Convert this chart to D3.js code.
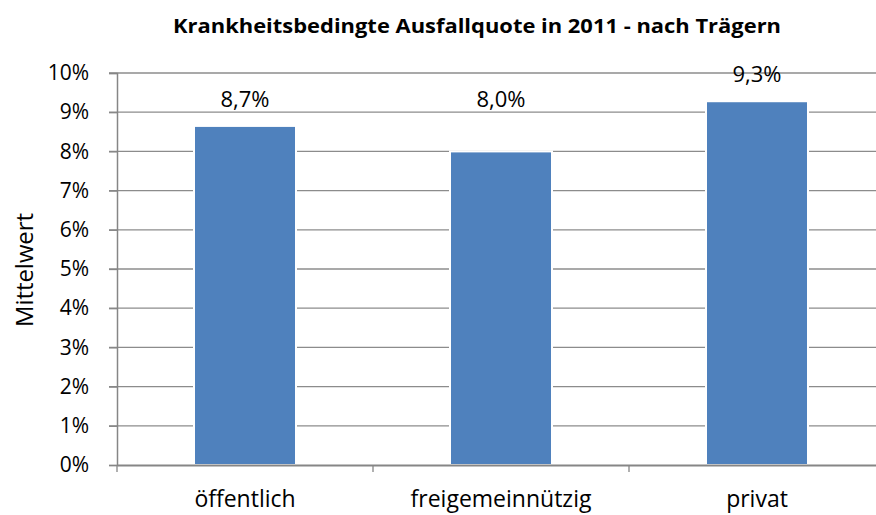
<!DOCTYPE html>
<html>
<head>
<meta charset="utf-8">
<script src="https://cdn.jsdelivr.net/npm/d3@7"></script>
<style>
  body { margin: 0; background: #fff; }
  text { font-family: "Open Sans", sans-serif; fill: #000; }
</style>
</head>
<body>
<div id="chart"></div>
<script>
var categories = ["öffentlich", "freigemeinnützig", "privat"];
var values = [8.65, 8.0, 9.28];
var valueLabels = ["8,7%", "8,0%", "9,3%"];
var yTicks = [0, 1, 2, 3, 4, 5, 6, 7, 8, 9, 10];

var chartWidth = 876, chartHeight = 515;
var plotLeft = 117, plotRight = 885, plotTop = 73, plotBottom = 465;
var labelFloor = 8.65; // labels never sit lower than this level

var svg = d3.select("#chart").append("svg")
    .attr("width", chartWidth)
    .attr("height", chartHeight);

// title
svg.append("text")
    .attr("x", 477)
    .attr("y", 33)
    .attr("text-anchor", "middle")
    .style("font-weight", "bold")
    .style("font-size", "19px")
    .attr("textLength", 608)
    .attr("lengthAdjust", "spacingAndGlyphs")
    .text("Krankheitsbedingte Ausfallquote  in 2011 - nach Trägern");

// scales
var x = d3.scaleBand().domain(categories).range([plotLeft, plotRight]);
var y = d3.scaleLinear().domain([0, 10]).range([plotBottom, plotTop]);

// grid
svg.append("g").selectAll("line")
    .data(yTicks.slice(1)).enter()
    .append("line")
    .attr("x1", plotLeft - 8).attr("x2", plotRight)
    .attr("y1", d => y(d)).attr("y2", d => y(d))
    .attr("stroke", "#8c8c8c")
    .attr("stroke-width", 1.3);

// bars
svg.append("g").selectAll("rect")
    .data(values).enter()
    .append("rect")
    .attr("x", (d, i) => x(categories[i]) + x.bandwidth() / 2 - 51)
    .attr("width", 102)
    .attr("y", d => y(d))
    .attr("height", d => plotBottom - y(d))
    .attr("fill", "#4f81bd")
    .attr("stroke", "#ffffff")
    .attr("stroke-width", 2);

// value labels
svg.append("g").selectAll("text")
    .data(values).enter()
    .append("text")
    .attr("x", (d, i) => x(categories[i]) + x.bandwidth() / 2)
    .attr("y", d => y(Math.max(d, labelFloor)) - 19)
    .attr("text-anchor", "middle")
    .style("font-size", "22px")
    .text((d, i) => valueLabels[i]);

// y axis
var yAxis = d3.axisLeft(y)
    .tickValues(yTicks)
    .tickSize(8)
    .tickPadding(20)
    .tickFormat(d => d + "%");
var gy = svg.append("g")
    .attr("transform", "translate(" + plotLeft + ",0)")
    .call(yAxis);
gy.select(".domain").attr("stroke", "#868686").attr("stroke-width", 1.5);
gy.selectAll(".tick line").attr("stroke", "#868686").attr("stroke-width", 1.3);
gy.selectAll(".tick text")
    .style("font-size", "21px")
    .style("font-family", "'Open Sans', sans-serif");

// x axis
var xAxis = d3.axisBottom(x).tickSize(0).tickPadding(26);
var gx = svg.append("g")
    .attr("transform", "translate(0," + plotBottom + ")")
    .call(xAxis);
gx.select(".domain").attr("stroke", "#868686").attr("stroke-width", 2.2);
gx.selectAll(".tick text")
    .style("font-size", "23px")
    .style("font-family", "'Open Sans', sans-serif");
gx.selectAll(".sep")
    .data(categories).enter()
    .append("line")
    .attr("x1", d => x(d)).attr("x2", d => x(d))
    .attr("y1", 0).attr("y2", 7)
    .attr("stroke", "#868686")
    .attr("stroke-width", 1.3);

// y axis title
svg.append("text")
    .attr("transform", "translate(33,270) rotate(-90)")
    .attr("text-anchor", "middle")
    .style("font-size", "23px")
    .attr("textLength", 114)
    .attr("lengthAdjust", "spacingAndGlyphs")
    .text("Mittelwert");
</script>
</body>
</html>
